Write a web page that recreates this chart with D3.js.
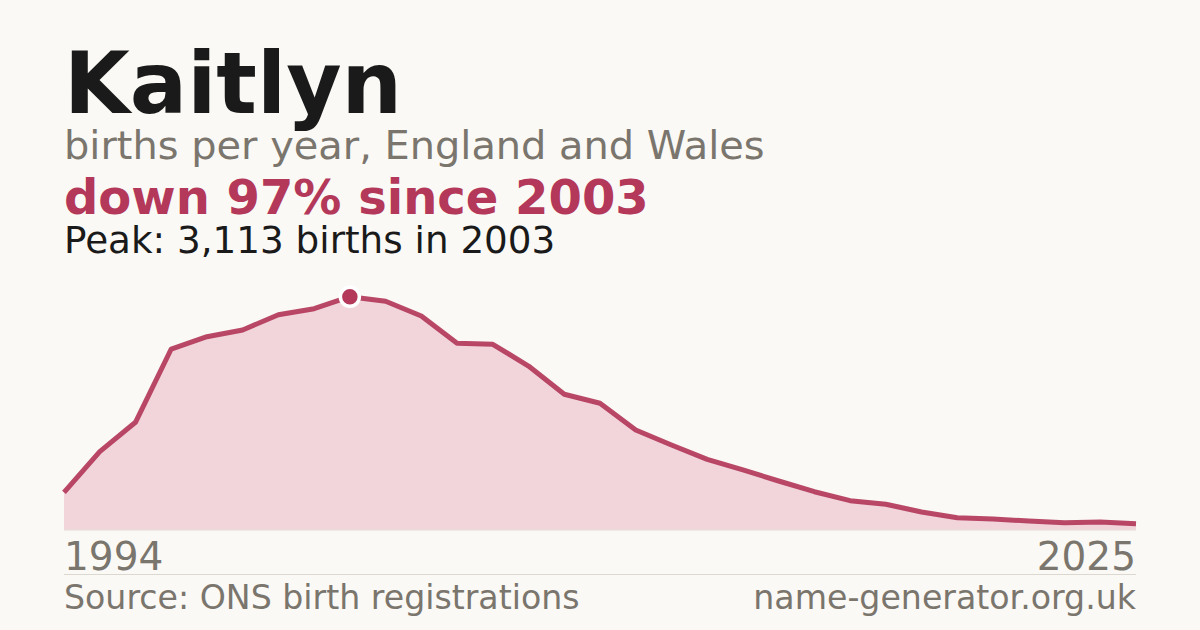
<!DOCTYPE html>
<html>
<head>
<meta charset="utf-8">
<script src="https://cdn.jsdelivr.net/npm/d3@7"></script>
<style>
  html, body { margin: 0; padding: 0; background: #faf9f5; }
  svg { display: block; font-family: "DejaVu Sans", sans-serif; }
</style>
</head>
<body>
<svg id="chart"></svg>
<script>
// births per year
const years = d3.range(1995, 2026);
const births = [503, 1045, 1437, 2415, 2579, 2669, 2873, 2953, 3113, 3053,
                2855, 2491, 2478, 2188, 1811, 1691, 1334, 1134, 943, 801,
                654, 511, 391, 343, 240, 164, 147, 120, 97, 107, 84];
const tickLabels = ["1994", "2025"];
const peakYear = 2003;

const name = "Kaitlyn";
const subtitle = "births per year, England and Wales";
const change = "down 97% since 2003";
const peakText = "Peak: 3,113 births in 2003";
const source = "Source: ONS birth registrations";
const site = "name-generator.org.uk";

const width = 1200, height = 630;
const margin = {left: 64, right: 64};
const plotTop = 296.7, plotBottom = 530;

const crimson = "#b3385a";
const grey = "#7a756d";

const data = years.map((y, i) => ({year: y, value: births[i]}));

const svg = d3.select("#chart")
    .attr("width", width)
    .attr("height", height);

svg.append("rect")
    .attr("width", width)
    .attr("height", height)
    .attr("fill", "#faf9f5");

// headings
svg.append("text")
    .attr("x", margin.left).attr("y", 113)
    .attr("font-size", 85).attr("font-weight", "bold")
    .attr("fill", "#1a1a1a")
    .text(name);

svg.append("text")
    .attr("x", margin.left).attr("y", 159)
    .attr("font-size", 39.9)
    .attr("fill", grey)
    .text(subtitle);

svg.append("text")
    .attr("x", margin.left).attr("y", 214)
    .attr("font-size", 48)
    .attr("font-weight", "bold")
    .attr("fill", crimson)
    .text(change);

svg.append("text")
    .attr("x", margin.left).attr("y", 253)
    .attr("font-size", 37.3)
    .attr("fill", "#1a1a1a")
    .text(peakText);

// scales
const x = d3.scalePoint()
    .domain(years)
    .range([margin.left, width - margin.right]);

const y = d3.scaleLinear()
    .domain([0, d3.max(births)])
    .range([plotBottom, plotTop]);

const area = d3.area()
    .x(d => x(d.year))
    .y0(y(0))
    .y1(d => y(d.value));

const line = d3.line()
    .x(d => x(d.year))
    .y(d => y(d.value));

svg.append("path")
    .datum(data)
    .attr("d", area)
    .attr("fill", "#f1d5db");

svg.append("line")
    .attr("x1", margin.left).attr("x2", width - margin.right)
    .attr("y1", y(0)).attr("y2", y(0))
    .attr("stroke", "#e4ddd8").attr("stroke-width", 1);

svg.append("path")
    .datum(data)
    .attr("d", line)
    .attr("fill", "none")
    .attr("stroke", crimson)
    .attr("stroke-width", 5)
    .attr("stroke-opacity", 0.92)
    .attr("stroke-linejoin", "round");

// peak marker
const peak = data.find(d => d.year === peakYear);
svg.append("circle")
    .attr("cx", x(peak.year))
    .attr("cy", y(peak.value))
    .attr("r", 9.5)
    .attr("fill", crimson)
    .attr("stroke", "#ffffff")
    .attr("stroke-width", 3.5);

// end labels
svg.append("text")
    .attr("x", x.range()[0]).attr("y", 570)
    .attr("font-size", 39)
    .attr("fill", grey)
    .text(tickLabels[0]);

svg.append("text")
    .attr("x", x.range()[1]).attr("y", 570)
    .attr("font-size", 39)
    .attr("text-anchor", "end")
    .attr("fill", grey)
    .text(tickLabels[1]);

svg.append("line")
    .attr("x1", margin.left).attr("x2", width - margin.right)
    .attr("y1", 574.5).attr("y2", 574.5)
    .attr("stroke", "#dcd8d0").attr("stroke-width", 1);

// footer
svg.append("text")
    .attr("x", margin.left).attr("y", 609)
    .attr("font-size", 33.2)
    .attr("fill", grey)
    .text(source);

svg.append("text")
    .attr("x", width - margin.right).attr("y", 609)
    .attr("font-size", 33.2)
    .attr("text-anchor", "end")
    .attr("fill", grey)
    .text(site);
</script>
</body>
</html>
